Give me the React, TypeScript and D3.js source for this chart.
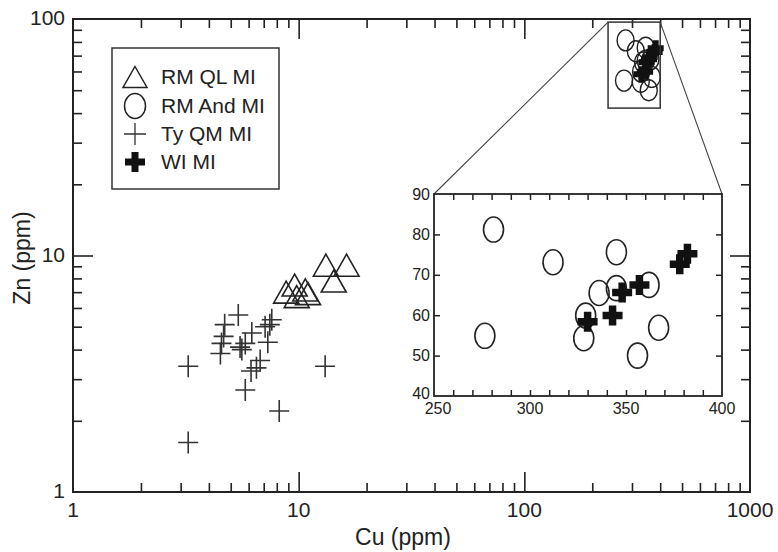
import React, { useEffect, useRef } from 'react';
import * as d3 from 'd3';

// RM QL MI (triangles)
const qlCu = [13.2, 16.3, 14.3, 9.6, 10.7, 8.8, 9.8, 11.0];
const qlZn = [9.1, 9.1, 7.8, 7.5, 7.15, 7.0, 6.7, 6.9];
// Ty QM MI (thin plus)
const tyCu = [3.24, 3.24, 13.1, 5.8, 8.2, 5.4, 4.7, 4.65, 4.55, 4.5, 5.5, 5.8, 6.2, 7.1, 7.45, 7.3, 6.75, 6.5, 6.15, 7.6, 5.6];
const tyZn = [3.4, 1.62, 3.4, 2.7, 2.2, 5.6, 5.1, 4.55, 4.25, 3.85, 4.1, 4.25, 4.7, 5.0, 5.1, 4.3, 3.6, 3.35, 3.25, 5.35, 4.0];
// RM And MI (circles)
const andCu = [281, 312, 276.5, 345, 336, 345, 329, 328, 362, 367, 356];
const andZn = [81.2, 73.1, 54.9, 75.6, 65.5, 66.7, 59.9, 54.3, 67.5, 56.9, 50.0];
// WI MI (bold plus)
const wiCu = [330, 343, 348, 357, 378, 382];
const wiZn = [58.4, 59.9, 65.6, 67.5, 72.6, 75.2];

const legendLabels = ['RM QL MI', 'RM And MI', 'Ty QM MI', 'WI MI'];
const xLabelTicks = [1, 10, 100, 1000];
const yLabelTicks = [1, 10, 100];
const insetXTicks = [250, 300, 350, 400];
const insetYTicks = [40, 50, 60, 70, 80, 90];
const zoomCu = [235, 400];
const zoomZn = [42, 97];

const INK = '#222';
const FONT = '"Liberation Sans", Arial, Helvetica, sans-serif';

const trianglePath = (w, h) => `M0,${-h / 2}L${w / 2},${h / 2}L${-w / 2},${h / 2}Z`;
const thinPlusPath = (w, h) => `M${-w / 2},0H${w / 2}M0,${-h / 2}V${h / 2}`;
const boldPlusPath = (s, t) => {
    const a = s / 2, b = t / 2;
    return `M${-b},${-a}H${b}V${-b}H${a}V${b}H${b}V${a}H${-b}V${b}H${-a}V${-b}H${-b}Z`;
};

const App = () => {
    const svgRef = useRef(null);

    useEffect(() => {
        const svg = d3.select(svgRef.current);
        svg.selectAll('*').remove();

        const x = d3.scaleLog().domain([1, 1000]).range([73, 750]);
        const y = d3.scaleLog().domain([1, 100]).range([492, 19]);

        const allX = x.ticks().filter(v => v > 1 && v < 1000);
        const allY = y.ticks().filter(v => v > 1 && v < 100);
        const isMajor = v => Math.abs(Math.log10(v) - Math.round(Math.log10(v))) < 1e-9;
        const minorX = allX.filter(v => !isMajor(v));
        const majorX = allX.filter(isMajor);
        const minorY = allY.filter(v => !isMajor(v));
        const majorY = allY.filter(isMajor);

        const tickAxis = (axis, vals, size, transform) => {
            const g = svg.append('g').attr('transform', transform)
                .call(axis.tickValues(vals).tickSize(size).tickFormat(() => ''));
            g.select('.domain').remove();
            g.selectAll('line').attr('stroke', INK).attr('stroke-width', 1.6);
        };
        tickAxis(d3.axisBottom(x), minorX, -9, 'translate(0,492)');
        tickAxis(d3.axisBottom(x), majorX, -20, 'translate(0,492)');
        tickAxis(d3.axisTop(x), minorX, -9, 'translate(0,19)');
        tickAxis(d3.axisTop(x), majorX, -20, 'translate(0,19)');
        tickAxis(d3.axisLeft(y), minorY, -9, 'translate(73,0)');
        tickAxis(d3.axisLeft(y), majorY, -20, 'translate(73,0)');
        tickAxis(d3.axisRight(y), minorY, -9, 'translate(750,0)');
        tickAxis(d3.axisRight(y), majorY, -20, 'translate(750,0)');

        svg.append('rect')
            .attr('x', 73).attr('y', 19).attr('width', 750 - 73).attr('height', 492 - 19)
            .attr('fill', 'none').attr('stroke', INK).attr('stroke-width', 2);

        // tick labels
        svg.append('g').selectAll('text').data(xLabelTicks).enter().append('text')
            .attr('x', d => x(d)).attr('y', 517)
            .attr('text-anchor', 'middle').attr('font-size', 21).attr('font-family', FONT).attr('fill', INK)
            .text(d => d);
        svg.append('g').selectAll('text').data(yLabelTicks).enter().append('text')
            .attr('x', 65).attr('y', d => y(d) - 1).attr('dy', '0.35em')
            .attr('text-anchor', 'end').attr('font-size', 21).attr('font-family', FONT).attr('fill', INK)
            .text(d => d);

        svg.append('text')
            .attr('x', 403).attr('y', 545)
            .attr('text-anchor', 'middle').attr('font-size', 23).attr('font-family', FONT).attr('fill', INK)
            .text('Cu (ppm)');
        svg.append('text')
            .attr('transform', 'translate(30,258) rotate(-90)')
            .attr('text-anchor', 'middle').attr('font-size', 23).attr('font-family', FONT).attr('fill', INK)
            .text('Zn (ppm)');

        // main data
        const qlData = qlCu.map((c, i) => ({ cu: c, zn: qlZn[i] }));
        const tyData = tyCu.map((c, i) => ({ cu: c, zn: tyZn[i] }));
        const andData = andCu.map((c, i) => ({ cu: c, zn: andZn[i] }));
        const wiData = wiCu.map((c, i) => ({ cu: c, zn: wiZn[i] }));

        svg.append('g').selectAll('path').data(tyData).enter().append('path')
            .attr('transform', d => `translate(${x(d.cu)},${y(d.zn)})`)
            .attr('d', thinPlusPath(20, 22))
            .attr('stroke', '#333').attr('stroke-width', 1.6).attr('fill', 'none');
        svg.append('g').selectAll('path').data(qlData).enter().append('path')
            .attr('transform', d => `translate(${x(d.cu)},${y(d.zn)})`)
            .attr('d', trianglePath(25, 22))
            .attr('stroke', INK).attr('stroke-width', 1.6).attr('fill', 'none');
        svg.append('g').selectAll('ellipse').data(andData).enter().append('ellipse')
            .attr('cx', d => x(d.cu)).attr('cy', d => y(d.zn))
            .attr('rx', 8.5).attr('ry', 10.5)
            .attr('stroke', INK).attr('stroke-width', 1.4).attr('fill', 'none');
        svg.append('g').selectAll('path').data(wiData).enter().append('path')
            .attr('transform', d => `translate(${x(d.cu)},${y(d.zn)})`)
            .attr('d', boldPlusPath(16, 6))
            .attr('fill', '#111');

        // zoom box
        const bx0 = x(zoomCu[0]), bx1 = x(zoomCu[1]);
        const by0 = y(zoomZn[1]), by1 = y(zoomZn[0]);
        svg.append('rect')
            .attr('x', bx0).attr('y', by0).attr('width', bx1 - bx0).attr('height', by1 - by0)
            .attr('fill', 'none').attr('stroke', '#333').attr('stroke-width', 1.5);

        // inset
        const xi = d3.scaleLinear().domain([250, 400]).range([434, 722]);
        const yi = d3.scaleLinear().domain([40, 90]).range([396, 194]);

        svg.append('line')
            .attr('x1', bx0).attr('y1', by0).attr('x2', xi(250)).attr('y2', yi(90))
            .attr('stroke', '#444').attr('stroke-width', 1.1);
        svg.append('line')
            .attr('x1', bx1).attr('y1', by0).attr('x2', xi(400)).attr('y2', yi(90))
            .attr('stroke', '#444').attr('stroke-width', 1.1);

        svg.append('rect')
            .attr('x', xi(250)).attr('y', yi(90)).attr('width', xi(400) - xi(250)).attr('height', yi(40) - yi(90))
            .attr('fill', '#fff');

        const insetAxis = (axis, vals, size, transform) => {
            const g = svg.append('g').attr('transform', transform)
                .call(axis.tickValues(vals).tickSize(size).tickFormat(() => ''));
            g.select('.domain').remove();
            g.selectAll('line').attr('stroke', INK).attr('stroke-width', 1.5);
        };
        const xiTicks = d3.range(260, 400, 10);
        const yiTicks = insetYTicks.slice(1, -1);
        insetAxis(d3.axisBottom(xi), xiTicks, -6, `translate(0,${yi(40)})`);
        insetAxis(d3.axisTop(xi), xiTicks, -6, `translate(0,${yi(90)})`);
        insetAxis(d3.axisLeft(yi), yiTicks, -6, `translate(${xi(250)},0)`);
        insetAxis(d3.axisRight(yi), yiTicks, -6, `translate(${xi(400)},0)`);

        svg.append('rect')
            .attr('x', xi(250)).attr('y', yi(90)).attr('width', xi(400) - xi(250)).attr('height', yi(40) - yi(90))
            .attr('fill', 'none').attr('stroke', INK).attr('stroke-width', 1.8);

        svg.append('g').selectAll('text').data(insetXTicks).enter().append('text')
            .attr('x', d => xi(d) + (d === 250 ? 4 : 0)).attr('y', yi(40) + 18)
            .attr('text-anchor', 'middle').attr('font-size', 16).attr('font-family', FONT).attr('fill', INK)
            .text(d => d);
        svg.append('g').selectAll('text').data(insetYTicks).enter().append('text')
            .attr('x', xi(250) - 4).attr('y', d => yi(d) - (d === 40 ? 3 : 0)).attr('dy', '0.35em')
            .attr('text-anchor', 'end').attr('font-size', 16).attr('font-family', FONT).attr('fill', INK)
            .text(d => d);

        svg.append('g').selectAll('ellipse').data(andData).enter().append('ellipse')
            .attr('cx', d => xi(d.cu)).attr('cy', d => yi(d.zn))
            .attr('rx', 10).attr('ry', 12.5)
            .attr('stroke', INK).attr('stroke-width', 1.6).attr('fill', 'none');
        svg.append('g').selectAll('path').data(wiData).enter().append('path')
            .attr('transform', d => `translate(${xi(d.cu)},${yi(d.zn)})`)
            .attr('d', boldPlusPath(20, 7.5))
            .attr('fill', '#111');

        // legend
        svg.append('rect')
            .attr('x', 112).attr('y', 48).attr('width', 167).attr('height', 141)
            .attr('fill', '#fff').attr('stroke', '#333').attr('stroke-width', 1.5);
        const ly = [77, 106, 134, 162];
        const legendSym = [
            g => g.append('path').attr('d', trianglePath(24, 21)).attr('fill', 'none').attr('stroke', INK).attr('stroke-width', 1.5),
            g => g.append('ellipse').attr('rx', 10.5).attr('ry', 12.5).attr('fill', 'none').attr('stroke', INK).attr('stroke-width', 1.5),
            g => g.append('path').attr('d', thinPlusPath(22, 22)).attr('fill', 'none').attr('stroke', '#333').attr('stroke-width', 1.3),
            g => g.append('path').attr('d', boldPlusPath(20, 7)).attr('fill', '#111'),
        ];
        legendLabels.forEach((lab, i) => {
            const g = svg.append('g').attr('transform', `translate(135,${ly[i]})`);
            legendSym[i](g);
            g.append('text')
                .attr('x', 26).attr('dy', '0.35em')
                .attr('font-size', 21).attr('font-family', FONT).attr('fill', INK)
                .text(lab);
        });
    }, []);

    return (
        <div style={{ position: 'absolute', left: 0, top: 0, width: 778, height: 552 }}>
            <svg ref={svgRef} width={778} height={552} style={{ display: 'block', background: '#fff' }}>
            </svg>
        </div>
    );
};

export default App;
